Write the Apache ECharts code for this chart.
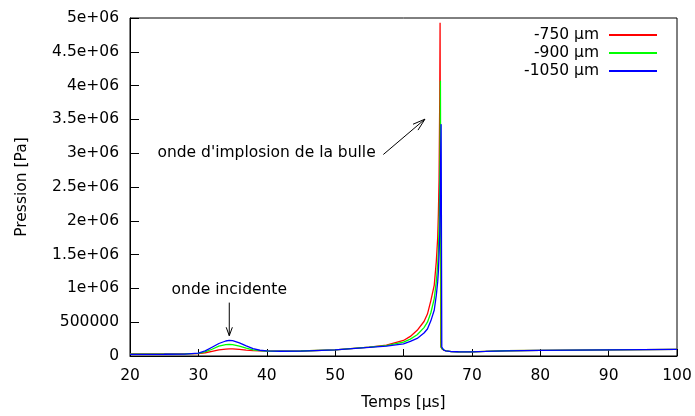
<!DOCTYPE html>
<html>
<head>
<meta charset="utf-8">
<script src="https://cdn.jsdelivr.net/npm/echarts@6/dist/echarts.min.js"></script>
<style>
html,body{margin:0;padding:0;background:#fff;}
#chart{width:695px;height:416px;}
</style>
</head>
<body>
<div id="chart"></div>
<script>
// ---- data ----
const times = [20, 25, 28, 30, 31, 32, 33, 34, 34.5, 35, 36, 37, 38, 39, 40, 42, 45, 50, 55, 57.5,
  60, 61, 62, 63, 63.5, 64, 64.5, 64.8, 65, 65.1, 65.2, 65.3, 65.35, 65.4, 65.45, 65.5, 65.55, 65.6,
  65.7, 65.9, 66.2, 67, 68, 70, 72, 75, 80, 85, 90, 95, 100];
const red750 = [30000, 30000, 31000, 35000, 48000, 70000, 92000, 103000, 105000, 104000, 97000, 88000, 80000, 75000, 72000, 70000, 74000, 92000, 132000, 160000,
  230000, 290000, 380000, 510000, 620000, 820000, 1050000, 1400000, 1750000, 2100000, 2600000, 3800000, 4930000, 2500000, 140000, 120000, 115000, 108000,
  98000, 85000, 75000, 66000, 63000, 62000, 68000, 78000, 84000, 88000, 92000, 95000, 98000];
const green900 = [28000, 28000, 30000, 38000, 62000, 100000, 145000, 168000, 172000, 168000, 145000, 115000, 92000, 80000, 74000, 70000, 74000, 91000, 130000, 152000,
  205000, 250000, 315000, 420000, 500000, 640000, 850000, 1100000, 1350000, 1550000, 1900000, 2500000, 3000000, 4070000, 2000000, 130000, 118000, 110000,
  100000, 86000, 76000, 66000, 63000, 62000, 68000, 78000, 84000, 88000, 92000, 95000, 98000];
const blue1050 = [25000, 26000, 28000, 42000, 75000, 130000, 185000, 222000, 230000, 226000, 195000, 150000, 110000, 85000, 75000, 70000, 73000, 90000, 128000, 145000,
  180000, 215000, 260000, 340000, 400000, 520000, 680000, 900000, 1100000, 1250000, 1500000, 1800000, 2100000, 2600000, 3100000, 3430000, 1800000, 130000,
  105000, 88000, 77000, 66000, 63000, 62000, 67000, 77000, 83000, 88000, 92000, 95000, 98000];
const seriesNames = ['-750 µm', '-900 µm', '-1050 µm'];
const seriesColors = ['#ff0000', '#00ff00', '#0000ff'];
const yTickLabels = ['0', '500000', '1e+06', '1.5e+06', '2e+06', '2.5e+06', '3e+06', '3.5e+06', '4e+06', '4.5e+06', '5e+06'];
const xTickLabels = ['20', '30', '40', '50', '60', '70', '80', '90', '100'];
const xTitle = 'Temps [µs]';
const yTitle = 'Pression [Pa]';
const noteIncident = 'onde incidente';
const noteImplosion = "onde d'implosion de la bulle";

// ---- chart ----
const FONT = 'DejaVu Sans';
const FS = 15.5;
const chart = echarts.init(document.getElementById('chart'), null, {renderer: 'canvas'});
const allSeries = [red750, green900, blue1050];

const option = {
  animation: false,
  backgroundColor: '#fff',
  textStyle: {fontFamily: FONT, fontSize: FS, color: '#000'},
  grid: {left: 130, top: 18, right: 18, bottom: 57, show: true, borderColor: '#000', borderWidth: 1, containLabel: false},
  legend: {
    orient: 'vertical', align: 'right', right: 32, top: 22,
    itemWidth: 48, itemHeight: 14, itemGap: 2,
    itemStyle: {opacity: 0},
    textStyle: {fontFamily: FONT, fontSize: FS, lineHeight: 14, color: '#000', padding: [0, 5, 0, 0]},
    data: seriesNames
  },
  xAxis: {
    type: 'value', min: 20, max: 100, interval: 10,
    name: xTitle, nameLocation: 'middle', nameGap: 39,
    nameTextStyle: {fontFamily: FONT, fontSize: FS, color: '#000'},
    axisLine: {show: true, lineStyle: {color: '#000', width: 1}},
    axisTick: {show: true, inside: true, length: 7, lineStyle: {color: '#000'}},
    axisLabel: {margin: 12, fontFamily: FONT, fontSize: FS, color: '#000',
      formatter: (v, i) => xTickLabels[i] !== undefined ? xTickLabels[i] : String(v)},
    splitLine: {show: false}
  },
  yAxis: {
    type: 'value', min: 0, max: 5000000, interval: 500000,
    name: yTitle, nameLocation: 'middle', nameGap: 100,
    nameTextStyle: {fontFamily: FONT, fontSize: FS, color: '#000'},
    axisLine: {show: true, lineStyle: {color: '#000', width: 1}},
    axisTick: {show: true, inside: true, length: 9, lineStyle: {color: '#000'}},
    axisLabel: {margin: 11, fontFamily: FONT, fontSize: FS, color: '#000',
      formatter: (v, i) => yTickLabels[i] !== undefined ? yTickLabels[i] : String(v)},
    splitLine: {show: false}
  },
  series: allSeries.map((vals, k) => ({
    type: 'line', name: seriesNames[k], symbol: 'none', showSymbol: false,
    color: seriesColors[k],
    lineStyle: {color: seriesColors[k], width: 1.3},
    data: times.map((t, i) => [t, vals[i]]),
    z: 2 + k
  }))
};
chart.setOption(option);

// ---- annotations (anchored in data coordinates) ----
const annoIncidentText = [34.52, 982000];
const annoIncidentArrow = [[34.52, 790000], [34.52, 300000]];
const annoImplosionText = [55.93, 3010000];
const annoImplosionArrow = [[57.05, 2981000], [63.14, 3504000]];

function px(p) { return chart.convertToPixel({gridIndex: 0}, p); }
function arrow(from, to, headLen, headAng) {
  const a = px(from), b = px(to);
  const ang = Math.atan2(a[1] - b[1], a[0] - b[0]);
  const h1 = [b[0] + headLen * Math.cos(ang + headAng), b[1] + headLen * Math.sin(ang + headAng)];
  const h2 = [b[0] + headLen * Math.cos(ang - headAng), b[1] + headLen * Math.sin(ang - headAng)];
  return [
    {type: 'line', shape: {x1: a[0], y1: a[1], x2: b[0], y2: b[1]}, style: {stroke: '#000', lineWidth: 1}, z: 10},
    {type: 'polyline', shape: {points: [h1, b, h2]}, style: {stroke: '#000', fill: null, lineWidth: 1}, z: 10}
  ];
}
const t1 = px(annoIncidentText), t2 = px(annoImplosionText);
const annoFont = FS + 'px "DejaVu Sans"';
chart.setOption({
  graphic: [
    {type: 'text', x: t1[0], y: t1[1], style: {text: noteIncident, font: annoFont, fill: '#000', align: 'center', verticalAlign: 'middle'}, z: 10},
    {type: 'text', x: t2[0], y: t2[1], style: {text: noteImplosion, font: annoFont, fill: '#000', align: 'right', verticalAlign: 'middle'}, z: 10},
    ...arrow(annoIncidentArrow[0], annoIncidentArrow[1], 9, 0.35),
    ...arrow(annoImplosionArrow[0], annoImplosionArrow[1], 13, 0.3)
  ]
});
</script>
</body>
</html>
